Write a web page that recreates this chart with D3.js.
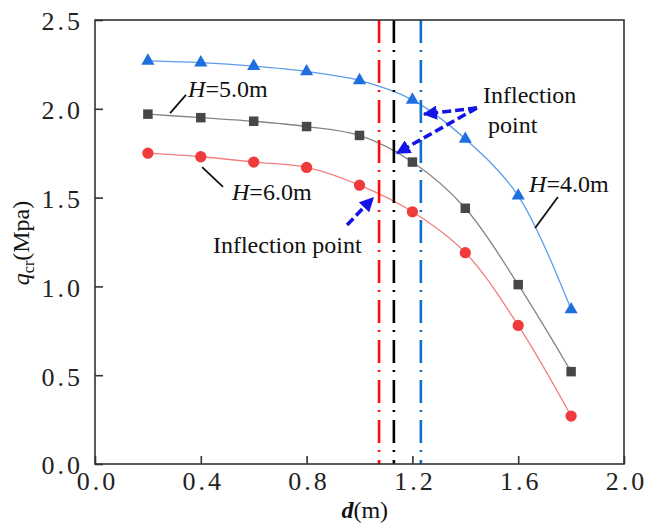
<!DOCTYPE html>
<html>
<head>
<meta charset="utf-8">
<script src="https://cdn.jsdelivr.net/npm/d3@7"></script>
<style>
  body { margin: 0; background: #fff; }
</style>
</head>
<body>
<div id="chart"></div>
<script>
const dVals = [0.2, 0.4, 0.6, 0.8, 1.0, 1.2, 1.4, 1.6, 1.8];
const qH4 = [2.27, 2.26, 2.24, 2.21, 2.16, 2.05, 1.83, 1.51, 0.87];
const qH5 = [1.97, 1.95, 1.93, 1.90, 1.85, 1.70, 1.44, 1.01, 0.52];
const qH6 = [1.75, 1.73, 1.70, 1.67, 1.57, 1.42, 1.19, 0.78, 0.27];
const xTicks = [0.0, 0.4, 0.8, 1.2, 1.6, 2.0];
const yTicks = [0.0, 0.5, 1.0, 1.5, 2.0, 2.5];
// inflection d for H=6, 5, 4
const inflection = [1.074, 1.13, 1.232];

const W = 646, H = 524;
const margin = {top: 20, right: 22, bottom: 60, left: 95};
const width = W - margin.left - margin.right;
const height = H - margin.top - margin.bottom;
const FONT = "Liberation Serif";

const svg = d3.select("#chart").append("svg")
  .attr("width", W).attr("height", H)
  .attr("font-family", FONT);
const g = svg.append("g")
  .attr("transform", `translate(${margin.left},${margin.top})`);

const x = d3.scaleLinear().domain([0, 2.0]).range([0, width]);
const y = d3.scaleLinear().domain([0, 2.5]).range([height, 0]);

const series = [
  {vals: qH4, line: "#5d9ce8", mark: "#1f6fdf", shape: d3.symbolTriangle, size: 75},
  {vals: qH5, line: "#858585", mark: "#474747", shape: d3.symbolSquare, size: 90},
  {vals: qH6, line: "#f27f7f", mark: "#ef3b3b", shape: d3.symbolCircle, size: 100}
];

const line = d3.line()
  .x(d => x(d[0])).y(d => y(d[1]))
  .curve(d3.curveCatmullRom.alpha(0.5));

series.forEach(s => {
  const pts = dVals.map((d, i) => [d, s.vals[i]]);
  g.append("path")
    .attr("d", line(pts))
    .attr("fill", "none")
    .attr("stroke", s.line)
    .attr("stroke-width", 1.3);
});

// vertical inflection lines
const vColors = ["#ff0a0a", "#000000", "#1070c8"];
g.selectAll(".vline")
  .data(inflection)
  .enter().append("line")
  .attr("x1", d => x(d)).attr("x2", d => x(d))
  .attr("y1", 0).attr("y2", height)
  .attr("stroke", (d, i) => vColors[i])
  .attr("stroke-width", 2.6)
  .attr("stroke-dasharray", "23,7,2,8");

series.forEach(s => {
  g.selectAll(null)
    .data(dVals.map((d, i) => [d, s.vals[i]]))
    .enter().append("path")
    .attr("d", d3.symbol().type(s.shape).size(s.size))
    .attr("transform", d => `translate(${x(d[0])},${y(d[1])})`)
    .attr("fill", s.mark);
});

// frame and axes
g.append("rect")
  .attr("width", width).attr("height", height)
  .attr("fill", "none").attr("stroke", "#333").attr("stroke-width", 1.6);

const xAxis = g.append("g")
  .attr("transform", `translate(0,${height})`)
  .call(d3.axisBottom(x).tickValues(xTicks).tickSizeInner(-8).tickSizeOuter(0)
    .tickPadding(7).tickFormat(d3.format(".1f")));
const yAxis = g.append("g")
  .call(d3.axisLeft(y).tickValues(yTicks).tickSizeInner(-8).tickSizeOuter(0)
    .tickPadding(12).tickFormat(d3.format(".1f")));
[xAxis, yAxis].forEach(a => {
  a.attr("font-family", FONT);
  a.select(".domain").remove();
  a.selectAll(".tick line").attr("stroke", "#333").attr("stroke-width", 1.6);
  a.selectAll(".tick text")
    .attr("font-family", FONT)
    .attr("font-size", 26)
    .attr("letter-spacing", 3)
    .attr("fill", "#222");
});
xAxis.selectAll(".tick text").attr("dx", 2).attr("dy", "0.72em");
yAxis.selectAll(".tick text").attr("dy", "0.38em");

// axis titles
const yl = svg.append("text")
  .attr("transform", `translate(29,243) rotate(-90)`)
  .attr("text-anchor", "middle")
  .attr("font-family", FONT)
  .attr("font-size", 24).attr("fill", "#111");
yl.append("tspan").attr("font-style", "italic").text("q");
yl.append("tspan").attr("font-size", 16).attr("dy", 5).text("cr");
yl.append("tspan").attr("dy", -5).text("(Mpa)");

const xl = svg.append("text")
  .attr("x", margin.left + x(1.02)).attr("y", 518)
  .attr("text-anchor", "middle")
  .attr("font-family", FONT)
  .attr("font-size", 24).attr("fill", "#111");
xl.append("tspan").attr("font-style", "italic").attr("font-weight", "bold").text("d");
xl.append("tspan").text("(m)");

// labels for H
const hLabels = [
  {text: "5.0m", x: 0.352, y: 2.066, l: [[0.284, 1.976], [0.344, 2.078]]},
  {text: "6.0m", x: 0.518, y: 1.486, l: [[0.405, 1.672], [0.484, 1.560]]},
  {text: "4.0m", x: 1.641, y: 1.532, l: [[1.664, 1.329], [1.750, 1.503]]}
];
hLabels.forEach(h => {
  g.append("line")
    .attr("x1", x(h.l[0][0])).attr("y1", y(h.l[0][1]))
    .attr("x2", x(h.l[1][0])).attr("y2", y(h.l[1][1]))
    .attr("stroke", "#111").attr("stroke-width", 1.8);
  const t = g.append("text")
    .attr("x", x(h.x)).attr("y", y(h.y))
    .attr("font-family", FONT)
    .attr("font-size", 24).attr("fill", "#111");
  t.append("tspan").attr("font-style", "italic").text("H");
  t.append("tspan").text("=" + h.text);
});

// inflection annotations
const notes = [
  {text: "Inflection", x: 1.467, y: 2.033},
  {text: "point", x: 1.486, y: 1.864},
  {text: "Inflection point", x: 0.446, y: 1.188}
];
notes.forEach(n => {
  g.append("text").attr("x", x(n.x)).attr("y", y(n.y))
    .attr("font-family", FONT)
    .attr("font-size", 24).attr("fill", "#111").text(n.text);
});

svg.append("defs").append("marker")
  .attr("id", "ah")
  .attr("viewBox", "0 0 10 10")
  .attr("refX", 9).attr("refY", 5)
  .attr("markerWidth", 4).attr("markerHeight", 4)
  .attr("markerUnits", "strokeWidth")
  .attr("orient", "auto")
  .append("path").attr("d", "M0,0 L10,5 L0,10 z").attr("fill", "#1414e6");

const arrows = [
  [[1.444, 2.005], [1.244, 1.97]],
  [[1.444, 2.005], [1.142, 1.751]],
  [[0.953, 1.346], [1.051, 1.498]]
];
arrows.forEach(a => {
  g.append("line")
    .attr("x1", x(a[0][0])).attr("y1", y(a[0][1]))
    .attr("x2", x(a[1][0])).attr("y2", y(a[1][1]))
    .attr("stroke", "#1414e6").attr("stroke-width", 3.6)
    .attr("stroke-dasharray", "9,4")
    .attr("marker-end", "url(#ah)");
});
</script>
</body>
</html>
